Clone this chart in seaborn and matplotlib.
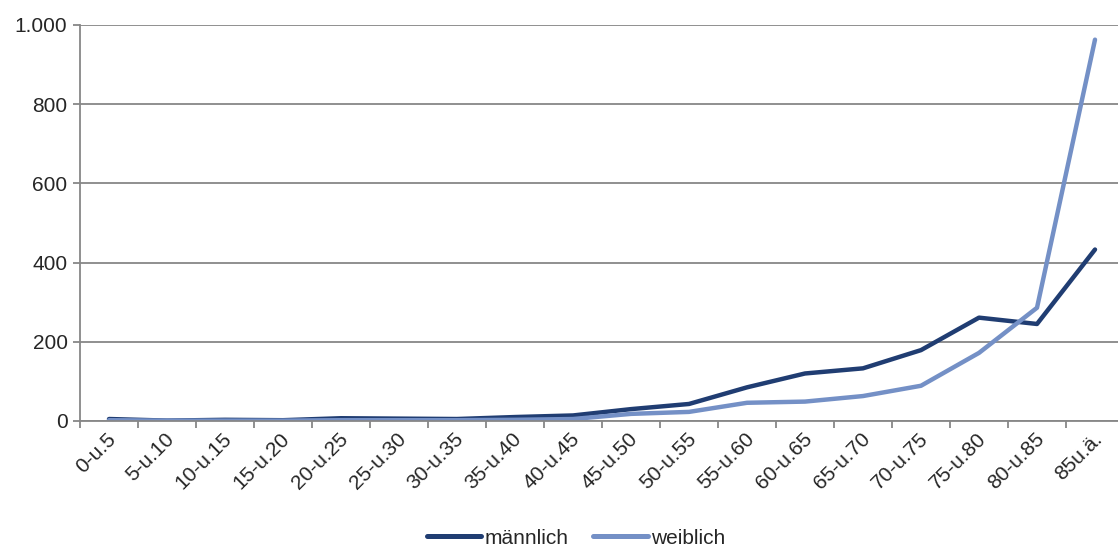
import pandas as pd
import matplotlib
matplotlib.use("Agg")
import matplotlib.pyplot as plt
import matplotlib.ticker as mticker
import matplotlib.transforms as mtransforms
import seaborn as sns

altersgruppen = ["0-u.5", "5-u.10", "10-u.15", "15-u.20", "20-u.25", "25-u.30",
                 "30-u.35", "35-u.40", "40-u.45", "45-u.50", "50-u.55", "55-u.60",
                 "60-u.65", "65-u.70", "70-u.75", "75-u.80", "80-u.85", "85u.ä."]
maennlich = [5, 1, 3, 2, 7, 6, 5, 10, 14, 30, 43, 85, 120, 133, 179, 261, 245, 433]
weiblich = [2, 1, 1, 1, 2, 2, 2, 3, 5, 18, 23, 46, 49, 63, 89, 172, 286, 963]

sns.set_style("white")
plt.rcParams["font.family"] = ["Liberation Sans", "DejaVu Sans"]

df = pd.DataFrame({
    "gruppe": altersgruppen * 2,
    "pos": list(range(len(altersgruppen))) * 2,
    "wert": maennlich + weiblich,
    "geschlecht": ["männlich"] * len(altersgruppen) + ["weiblich"] * len(altersgruppen),
})

farben = {"männlich": "#203D72", "weiblich": "#7490C6"}
grau = "#878787"

fig = plt.figure(figsize=(11.18, 5.5), dpi=100)
ax = fig.add_axes([80 / 1118, 1 - 421 / 550, 1044 / 1118, 396 / 550])

sns.lineplot(data=df, x="pos", y="wert", hue="geschlecht", palette=farben,
             linewidth=3.2, ax=ax, legend=False)

ax.set_xlim(-0.5, len(altersgruppen) - 0.5)
ax.set_ylim(0, 1000)
ax.set_yticks(range(0, 1001, 200))
ax.yaxis.set_major_formatter(mticker.FuncFormatter(lambda v, p: f"{int(v):,}".replace(",", ".")))
ax.yaxis.grid(True, color=grau, linewidth=1.3)
ax.set_axisbelow(True)

ax.set_xticks(range(len(altersgruppen)))
ax.set_xticklabels(altersgruppen, rotation=45, ha="right", va="center", rotation_mode="anchor")
ax.set_xticks([i - 0.5 for i in range(len(altersgruppen) + 1)], minor=True)
ax.tick_params(axis="x", which="major", length=0, pad=11, labelsize=15)
ax.tick_params(axis="x", which="minor", length=5, width=1.3, color=grau, direction="out", bottom=True)
ax.tick_params(axis="y", length=5, width=1.3, color=grau, direction="out", left=True, labelsize=15, pad=4)

# Beschriftungen leicht nach rechts schieben
verschiebung = mtransforms.ScaledTranslation(4 / 100, 0, fig.dpi_scale_trans)
for lbl in ax.get_xticklabels():
    lbl.set_transform(lbl.get_transform() + verschiebung)

for side in ["top", "right"]:
    ax.spines[side].set_visible(False)
for side in ["left", "bottom"]:
    ax.spines[side].set_color(grau)
    ax.spines[side].set_linewidth(1.3)

ax.set_xlabel("")
ax.set_ylabel("")

handles = [plt.Line2D([], [], color=farben[k], linewidth=3.6) for k in farben]
fig.legend(handles, list(farben.keys()), loc="center", bbox_to_anchor=(576 / 1118, 12 / 550),
           ncol=2, frameon=False, fontsize=15, handlelength=2.6, handletextpad=0.15,
           columnspacing=1.2)

fig.savefig("out.png", dpi=100)
